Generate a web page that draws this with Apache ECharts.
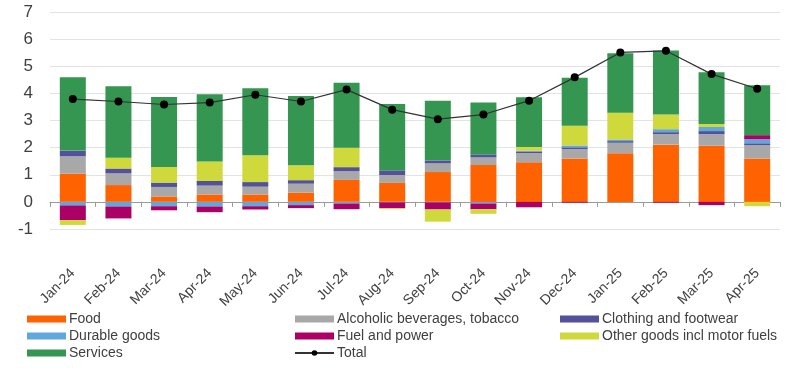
<!DOCTYPE html>
<html>
<head>
<meta charset="utf-8">
<script src="https://cdn.jsdelivr.net/npm/echarts@6/dist/echarts.min.js"></script>
<style>
  html, body { margin: 0; padding: 0; background: #fff; }
  #chart { width: 800px; height: 375px; }
</style>
</head>
<body>
<div id="chart"></div>
<script>
var months = ['Jan-24', 'Feb-24', 'Mar-24', 'Apr-24', 'May-24', 'Jun-24', 'Jul-24', 'Aug-24',
  'Sep-24', 'Oct-24', 'Nov-24', 'Dec-24', 'Jan-25', 'Feb-25', 'Mar-25', 'Apr-25'];

var food = [1.04, 0.62, 0.20, 0.27, 0.27, 0.34, 0.81, 0.70, 1.10, 1.36, 1.46, 1.60, 1.79, 2.11, 2.07, 1.60];
var alcohol = [0.64, 0.43, 0.35, 0.33, 0.29, 0.33, 0.32, 0.29, 0.32, 0.28, 0.34, 0.35, 0.39, 0.39, 0.43, 0.49];
var clothing = [0.21, 0.18, 0.16, 0.17, 0.17, 0.13, 0.15, 0.17, 0.11, 0.11, 0.06, 0.06, 0.06, 0.07, 0.11, 0.07];
var durable = [-0.13, -0.17, -0.16, -0.17, -0.16, -0.12, -0.06, -0.02, -0.02, -0.06, 0.03, 0.07, 0.06, 0.11, 0.15, 0.15];
var fuel = [-0.54, -0.44, -0.15, -0.21, -0.12, -0.11, -0.21, -0.21, -0.26, -0.21, -0.20, -0.03, 0.0, -0.03, -0.12, 0.15];
var other = [-0.18, 0.40, 0.58, 0.72, 0.99, 0.55, 0.72, -0.03, -0.45, -0.17, 0.13, 0.73, 0.99, 0.54, 0.11, -0.16];
var services = [2.70, 2.63, 2.58, 2.48, 2.47, 2.55, 2.39, 2.45, 2.20, 1.91, 1.84, 1.77, 2.19, 2.36, 1.91, 1.84];
var total = [3.79, 3.70, 3.59, 3.66, 3.95, 3.70, 4.14, 3.40, 3.05, 3.22, 3.73, 4.59, 5.51, 5.57, 4.71, 4.17];

var yMin = -1, yMax = 7, yStep = 1;

var txt = '#404040';
var fontFam = '"Liberation Sans", Arial, sans-serif';

function barSeries(name, data, color) {
  return {
    name: name,
    type: 'bar',
    stack: 'cpi',
    data: data,
    barWidth: 26,
    itemStyle: { color: color },
    emphasis: { disabled: true }
  };
}

// bar entries get a flat rectangle, the line keeps its line+dot icon
function rectItems(names) {
  return names.map(function (n) {
    return n === 'Total' ? { name: n } : { name: n, icon: 'rect' };
  });
}

var legendBase = {
  orient: 'vertical',
  top: 307,
  itemWidth: 39,
  itemHeight: 7,
  itemGap: 3,
  textStyle: { color: txt, fontSize: 14, fontFamily: fontFam, padding: [0, 0, 0, -2] },
  selectedMode: false
};

var option = {
  animation: false,
  grid: { left: 50, right: 20, top: 12, bottom: 146 },
  legend: [
    Object.assign({}, legendBase, { left: 22, data: rectItems(['Food', 'Durable goods', 'Services']) }),
    Object.assign({}, legendBase, { left: 289, data: rectItems(['Alcoholic beverages, tobacco', 'Fuel and power', 'Total']) }),
    Object.assign({}, legendBase, { left: 555, data: rectItems(['Clothing and footwear', 'Other goods incl motor fuels']) })
  ],
  xAxis: {
    type: 'category',
    data: months,
    axisLine: { onZero: true, lineStyle: { color: '#9a9a9a', width: 1 } },
    axisTick: { show: true, length: 5, lineStyle: { color: '#9a9a9a' } },
    axisLabel: {
      rotate: 45,
      margin: 42,
      color: txt,
      fontSize: 14,
      fontFamily: fontFam,
      interval: 0
    }
  },
  yAxis: {
    type: 'value',
    min: yMin,
    max: yMax,
    interval: yStep,
    axisLine: { show: false },
    axisTick: { show: false },
    splitLine: { lineStyle: { color: '#e3e3e3', width: 1 } },
    axisLabel: { color: txt, fontSize: 17, fontFamily: fontFam, margin: 17 }
  },
  series: [
    barSeries('Food', food, '#FF6200'),
    barSeries('Alcoholic beverages, tobacco', alcohol, '#A8A8A8'),
    barSeries('Clothing and footwear', clothing, '#525199'),
    barSeries('Durable goods', durable, '#60A8DC'),
    barSeries('Fuel and power', fuel, '#AB0066'),
    barSeries('Other goods incl motor fuels', other, '#D0D93C'),
    barSeries('Services', services, '#349651'),
    {
      name: 'Total',
      type: 'line',
      data: total,
      symbol: 'circle',
      symbolSize: 8,
      z: 5,
      lineStyle: { color: '#333', width: 1.2 },
      itemStyle: { color: '#000' },
      emphasis: { disabled: true }
    }
  ]
};

var myChart = echarts.init(document.getElementById('chart'));
myChart.setOption(option);
window.addEventListener('resize', function () {
  myChart.resize();
});
</script>
</body>
</html>
